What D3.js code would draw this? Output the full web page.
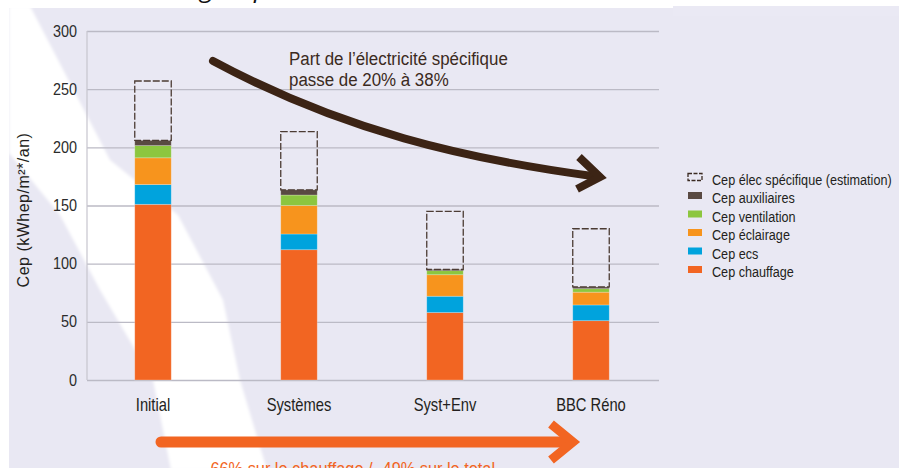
<!DOCTYPE html>
<html>
<head>
<meta charset="utf-8">
<script src="https://cdn.jsdelivr.net/npm/d3@7"></script>
<style>
    body { margin: 0; background: #fff; }
    #chart { width: 899px; height: 468px; overflow: hidden; }
    text { font-family: "Liberation Sans", Arial, sans-serif; }
</style>
</head>
<body>
<div id="chart"></div>
<script>

// data (kWhep/m2/an)
const scenarios = ["Initial", "Systèmes", "Syst+Env", "BBC Réno"];
const chauffage = [151, 112, 58, 51];
const ecs = [17, 13.5, 14, 13.5];
const eclairage = [23, 24.5, 18.5, 11];
const ventilation = [10.5, 9, 3.5, 3];
const auxiliaires = [4.5, 4.5, 1, 1.5];
const elecSpecifique = [51, 50, 50, 50];

const seriesKeys = ["chauffage", "ecs", "eclairage", "ventilation", "auxiliaires", "elecSpecifique"];
const seriesLabels = ["Cep chauffage", "Cep ecs", "Cep éclairage", "Cep ventilation", "Cep auxiliaires", "Cep élec spécifique (estimation)"];
const seriesColors = ["#f26522", "#00a3dd", "#f7941d", "#8cc63f", "#594a42", "none"];
const yTicks = [0, 50, 100, 150, 200, 250, 300];


// condensed look: squeeze a text horizontally around its anchor
function squeeze(sel, x, y, k) {
    return sel.attr("transform", `translate(${x}, ${y}) scale(${k}, 1)`);
}

class StackVis {

    constructor(parentElement) {
        this.parentElement = parentElement;
        this.displayData = [];
        this.initVis();
    }

    initVis() {
        let vis = this;

        vis.width = 899;
        vis.height = 468;
        vis.plot = {left: 87, right: 659, top: 31, bottom: 380};

        vis.svg = d3.select("#" + vis.parentElement).append("svg")
            .attr("width", vis.width)
            .attr("height", vis.height);

        vis.svg.append("defs").append("filter")
            .attr("id", "soft")
            .append("feGaussianBlur")
            .attr("stdDeviation", 1.5);

        // lavender panel + light beam
        vis.svg.append("rect")
            .attr("x", 9).attr("y", 8)
            .attr("width", vis.width - 9).attr("height", vis.height - 8)
            .attr("fill", "#e9e8f3");
        vis.svg.append("rect")
            .attr("x", 673).attr("y", 6)
            .attr("width", vis.width - 673).attr("height", 10)
            .attr("fill", "#eae9f4");

        vis.svg.append("polygon")
            .attr("points", "9,6 30,6 110,160 178,215 223,300 240,380 267,470 171,470 153,380 100,290 60,215 9,153")
            .attr("fill", "#ffffff")
            .attr("filter", "url(#soft)");
        vis.svg.append("rect")
            .attr("x", 0).attr("y", 0)
            .attr("width", 9).attr("height", vis.height)
            .attr("fill", "#fff");
        vis.svg.append("rect")
            .attr("x", 0).attr("y", 0)
            .attr("width", 673).attr("height", 8)
            .attr("fill", "#fff");

        // cut-off heading above the chart
        ["g", "p"].forEach((ch, i) => {
            vis.svg.append("text")
                .attr("x", i === 0 ? 200 : 254).attr("y", -3)
                .style("font-family", "'Open Sans', sans-serif")
                .style("font-style", "italic")
                .style("font-size", "26px")
                .attr("fill", "#111")
                .text(ch);
        });

        // scales
        vis.x = d3.scaleBand()
            .domain(scenarios)
            .range([80, 664])
            .paddingInner(0.75)
            .paddingOuter(0.375);

        vis.y = d3.scaleLinear()
            .domain([0, 300])
            .range([vis.plot.bottom, vis.plot.top]);

        vis.yAxis = d3.axisLeft(vis.y)
            .tickValues(yTicks)
            .tickSize(-(vis.plot.right - vis.plot.left))
            .tickPadding(10);

        vis.xAxis = d3.axisBottom(vis.x)
            .tickSize(0)
            .tickPadding(18);

        vis.yAxisGroup = vis.svg.append("g")
            .attr("class", "y-axis axis")
            .attr("transform", `translate(${vis.plot.left}, 0)`);

        vis.xAxisGroup = vis.svg.append("g")
            .attr("class", "x-axis axis")
            .attr("transform", `translate(0, ${vis.plot.bottom})`);

        vis.barGroup = vis.svg.append("g").attr("class", "bars");

        vis.svg.append("text")
            .attr("transform", "translate(29, 210) rotate(-90)")
            .attr("text-anchor", "middle")
            .style("font-size", "16px")
            .style("letter-spacing", "0.5px")
            .attr("fill", "#231f20")
            .text("Cep (kWhep/m²*/an)");

        this.wrangleData();
    }

    wrangleData() {
        let vis = this;

        let cols = {chauffage, ecs, eclairage, ventilation, auxiliaires, elecSpecifique};
        vis.displayData = scenarios.map((s, i) => {
            let row = {scenario: s};
            seriesKeys.forEach(k => row[k] = cols[k][i]);
            return row;
        });

        vis.stacked = d3.stack().keys(seriesKeys)(vis.displayData);

        vis.updateVis();
    }

    updateVis() {
        let vis = this;

        // axes
        vis.yAxisGroup.call(vis.yAxis);
        vis.yAxisGroup.select(".domain").remove();
        vis.yAxisGroup.selectAll(".tick line")
            .attr("stroke", "#bbbac5")
            .attr("stroke-width", 1.3);
        vis.yAxisGroup.selectAll(".tick text")
            .attr("x", -10 / 0.9)
            .attr("transform", "scale(0.9, 1)")
            .style("font-size", "16px")
            .attr("fill", "#2b2b2b");
        vis.yAxisGroup.append("line")
            .attr("y1", vis.plot.top).attr("y2", vis.plot.bottom)
            .attr("stroke", "#c6c5ce")
            .attr("stroke-width", 1.2);

        vis.xAxisGroup.call(vis.xAxis);
        vis.xAxisGroup.select(".domain").remove();
        vis.xAxisGroup.selectAll(".tick text")
            .attr("transform", "scale(0.82, 1)")
            .style("font-size", "18px")
            .attr("fill", "#231f20");

        // stacked bars
        let layers = vis.barGroup.selectAll(".layer")
            .data(vis.stacked)
            .enter().append("g")
            .attr("class", "layer")
            .attr("fill", (d, i) => seriesColors[i]);

        layers.selectAll("rect")
            .data(d => d.map(v => ({v: v, key: d.key})))
            .enter().append("rect")
            .attr("x", d => vis.x(d.v.data.scenario))
            .attr("y", d => vis.y(d.v[1]))
            .attr("width", vis.x.bandwidth())
            .attr("height", d => vis.y(d.v[0]) - vis.y(d.v[1]))
            .attr("stroke", d => d.key === "elecSpecifique" ? "#4b3b33" : "rgba(255,255,255,0.3)")
            .attr("stroke-width", d => d.key === "elecSpecifique" ? 1.3 : 0.8)
            .attr("stroke-dasharray", d => d.key === "elecSpecifique" ? "7 2" : null);

        // legend
        let legend = vis.svg.append("g")
            .attr("class", "legend")
            .attr("transform", "translate(688, 184.5)");

        let order = seriesKeys.map((k, i) => i).reverse();
        let rows = legend.selectAll(".row")
            .data(order)
            .enter().append("g")
            .attr("class", "row")
            .attr("transform", (d, i) => `translate(0, ${i * 18.5})`);

        rows.append("rect")
            .attr("x", 0).attr("y", -11)
            .attr("width", 14).attr("height", 7)
            .attr("fill", d => seriesColors[d] === "none" ? "none" : seriesColors[d])
            .attr("stroke", d => seriesColors[d] === "none" ? "#3b2a21" : null)
            .attr("stroke-width", 1.3)
            .attr("stroke-dasharray", d => seriesColors[d] === "none" ? "4 1.5" : null);

        rows.append("text")
            .call(squeeze, 24, 0, 0.82)
            .style("font-size", "15.4px")
            .attr("fill", "#231f20")
            .text(d => seriesLabels[d]);

        // annotation: share of specific electricity
        vis.svg.append("path")
            .attr("d", "M213,61 C343,131 466,159 592,176")
            .attr("fill", "none")
            .attr("stroke", "#3c2415")
            .attr("stroke-width", 8)
            .attr("stroke-linecap", "round");
        vis.svg.append("path")
            .attr("d", "M579,157 L600,177 L577,189")
            .attr("fill", "none")
            .attr("stroke", "#3c2415")
            .attr("stroke-width", 8);

        vis.svg.append("text")
            .call(squeeze, 289, 64.5, 0.89)
            .style("font-size", "19px")
            .attr("fill", "#3b2a21")
            .text("Part de l’électricité spécifique");
        vis.svg.append("text")
            .call(squeeze, 289, 86, 0.89)
            .style("font-size", "19px")
            .attr("fill", "#3b2a21")
            .text("passe de 20% à 38%");

        // annotation: overall reduction
        vis.svg.append("path")
            .attr("d", "M161,442 H566")
            .attr("fill", "none")
            .attr("stroke", "#f26522")
            .attr("stroke-width", 11)
            .attr("stroke-linecap", "round");
        vis.svg.append("path")
            .attr("d", "M551,424 L573,442 L551,460")
            .attr("fill", "none")
            .attr("stroke", "#f26522")
            .attr("stroke-width", 9);

        vis.svg.append("text")
            .call(squeeze, 205, 475, 0.86)
            .style("font-size", "19px")
            .attr("fill", "#f26522")
            .text("-66% sur le chauffage / -49% sur le total");
    }
}

new StackVis("chart");
</script>
</body>
</html>
